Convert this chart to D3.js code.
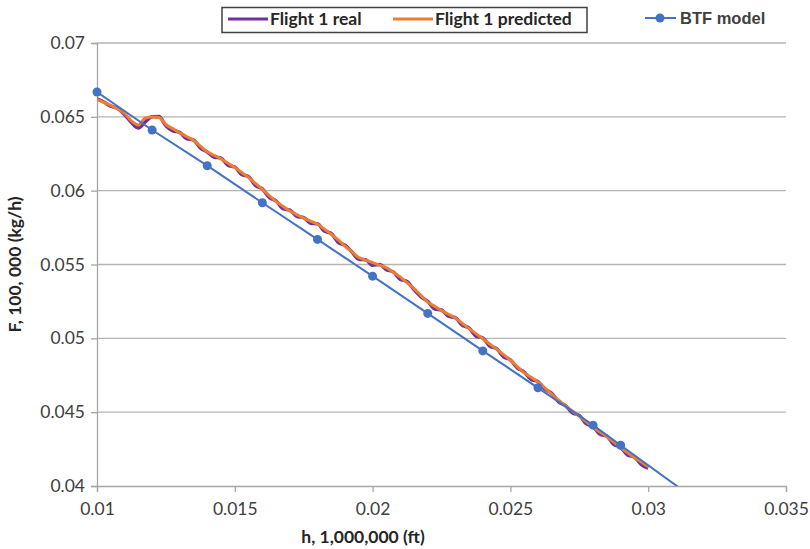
<!DOCTYPE html>
<html>
<head>
<meta charset="utf-8">
<script src="https://cdn.jsdelivr.net/npm/d3@7"></script>
<style>
  body { margin: 0; background: #fff; }
  text { font-family: Lato, "Open Sans", sans-serif; }
</style>
</head>
<body>
<div id="chart"></div>
<script>
// x values of the flight curves (h, 1,000,000 ft)
const flightH = [
  0.01, 0.01025, 0.0105, 0.01075, 0.011, 0.01125, 0.0115, 0.01175, 0.012, 0.01225,
  0.0125, 0.01275, 0.013, 0.01325, 0.0135, 0.01375, 0.014, 0.01425, 0.0145, 0.01475,
  0.015, 0.01525, 0.0155, 0.01575, 0.016, 0.01625, 0.0165, 0.01675, 0.017, 0.01725,
  0.0175, 0.01775, 0.018, 0.01825, 0.0185, 0.01875, 0.019, 0.01925, 0.0195, 0.01975,
  0.02, 0.02025, 0.0205, 0.02075, 0.021, 0.02125, 0.0215, 0.02175, 0.022, 0.02225,
  0.0225, 0.02275, 0.023, 0.02325, 0.0235, 0.02375, 0.024, 0.02425, 0.0245, 0.02475,
  0.025, 0.02525, 0.0255, 0.02575, 0.026, 0.02625, 0.0265, 0.02675, 0.027, 0.02725,
  0.0275, 0.02775, 0.028, 0.02825, 0.0285, 0.02875, 0.029, 0.02925, 0.0295, 0.02975,
  0.03
];

const flightReal = [
  0.06622, 0.06600, 0.06572, 0.06556, 0.06515, 0.06462, 0.06424, 0.06465, 0.06500, 0.06502,
  0.06440, 0.06405, 0.06395, 0.06352, 0.06343, 0.06290, 0.06262, 0.06228, 0.06220, 0.06172,
  0.06160, 0.06110, 0.06095, 0.06035, 0.06012, 0.05955, 0.05930, 0.05878, 0.05868, 0.05826,
  0.05818, 0.05780, 0.05776, 0.05726, 0.05710, 0.05650, 0.05630, 0.05585, 0.05535, 0.05532,
  0.05495, 0.05500, 0.05465, 0.05450, 0.05400, 0.05385, 0.05330, 0.05282, 0.05250, 0.05200,
  0.05192, 0.05150, 0.05140, 0.05090, 0.05070, 0.05015, 0.05002, 0.04948, 0.04930, 0.04875,
  0.04855, 0.04800, 0.04772, 0.04722, 0.04708, 0.04655, 0.04628, 0.04570, 0.04545, 0.04495,
  0.04478, 0.04422, 0.04402, 0.04350, 0.04338, 0.04282, 0.04262, 0.04210, 0.04196, 0.04145,
  0.04122
];

const flightPredicted = [
  0.06619, 0.06598, 0.06577, 0.06553, 0.06524, 0.06472, 0.06444, 0.06492, 0.06499, 0.06495,
  0.06448, 0.06420, 0.06392, 0.06367, 0.06341, 0.06302, 0.06263, 0.06240, 0.06215, 0.06186,
  0.06157, 0.06123, 0.06089, 0.06049, 0.06008, 0.05967, 0.05926, 0.05894, 0.05862, 0.05838,
  0.05814, 0.05794, 0.05774, 0.05740, 0.05706, 0.05666, 0.05625, 0.05586, 0.05547, 0.05530,
  0.05513, 0.05496, 0.05479, 0.05448, 0.05416, 0.05377, 0.05337, 0.05291, 0.05245, 0.05217,
  0.05188, 0.05163, 0.05138, 0.05102, 0.05066, 0.05032, 0.04997, 0.04962, 0.04927, 0.04890,
  0.04852, 0.04809, 0.04766, 0.04736, 0.04705, 0.04664, 0.04622, 0.04582, 0.04542, 0.04508,
  0.04473, 0.04436, 0.04398, 0.04366, 0.04334, 0.04297, 0.04260, 0.04226, 0.04192, 0.04162,
  0.04131
];

// BTF model points (last one lies below the axis and is clipped)
const btfH = [0.01, 0.012, 0.014, 0.016, 0.018, 0.02, 0.022, 0.024, 0.026, 0.028, 0.029, 0.032];
const btfF = [0.06668, 0.06411, 0.06169, 0.05918, 0.05670, 0.05421, 0.05169, 0.04915, 0.04665, 0.04412, 0.04276, 0.03870];

const xTicks = [0.01, 0.015, 0.02, 0.025, 0.03, 0.035];
const yTicks = [0.04, 0.045, 0.05, 0.055, 0.06, 0.065, 0.07];

const width = 810, height = 549;
const plot = { left: 97, right: 786, top: 43, bottom: 486 };

const svg = d3.select("#chart").append("svg")
    .attr("width", width)
    .attr("height", height);

const xScale = d3.scaleLinear().domain([0.01, 0.035]).range([plot.left, plot.right]);
const yScale = d3.scaleLinear().domain([0.04, 0.07]).range([plot.bottom, plot.top]);

// gridlines
svg.append("g")
    .selectAll("line")
    .data(yTicks.slice(1))
    .enter().append("line")
    .attr("x1", plot.left)
    .attr("x2", plot.right)
    .attr("y1", (d) => yScale(d))
    .attr("y2", (d) => yScale(d))
    .style("stroke", "#b4b4b4")
    .style("stroke-width", 1.3);

// y-axis
const yAxis = svg.append("g")
    .attr("transform", `translate(${plot.left}, 0)`)
    .call(d3.axisLeft(yScale).tickValues(yTicks).tickSize(6).tickPadding(6).tickFormat((d) => d3.format("")(+d.toFixed(3))));

// x-axis
const xAxis = svg.append("g")
    .attr("transform", `translate(0, ${plot.bottom})`)
    .call(d3.axisBottom(xScale).tickValues(xTicks).tickSize(6).tickPadding(11).tickFormat((d) => d3.format("")(+d.toFixed(3))));

[yAxis, xAxis].forEach((ax) => {
    ax.select(".domain").style("stroke", "#a6a6a6").style("stroke-width", 1.3);
    ax.selectAll(".tick line").style("stroke", "#a6a6a6").style("stroke-width", 1.3);
    ax.selectAll(".tick text")
        .style("font-family", "Lato, sans-serif")
        .style("font-size", "17.5px")
        .style("fill", "#404040");
});

// axis titles
svg.append("text")
    .attr("x", 363)
    .attr("y", 543)
    .attr("text-anchor", "middle")
    .style("font-size", "17.5px")
    .style("font-weight", "bold")
    .style("fill", "#262626")
    .text("h, 1,000,000 (ft)");

svg.append("text")
    .attr("transform", `translate(21, ${(plot.top + plot.bottom) / 2}) rotate(-90)`)
    .attr("text-anchor", "middle")
    .style("font-size", "17.5px")
    .style("font-weight", "bold")
    .style("fill", "#262626")
    .text("F, 100, 000 (kg/h)");

// clip for the plot area
svg.append("clipPath")
    .attr("id", "plot-clip")
    .append("rect")
    .attr("x", plot.left)
    .attr("y", plot.top)
    .attr("width", plot.right - plot.left)
    .attr("height", plot.bottom - plot.top);

const lines = svg.append("g").attr("clip-path", "url(#plot-clip)");

const flightLine = d3.line()
    .x((d) => xScale(d[0]))
    .y((d) => yScale(d[1]))
    .curve(d3.curveMonotoneX);

lines.append("path")
    .datum(flightH.map((h, i) => [h, flightReal[i]]))
    .attr("d", flightLine)
    .style("fill", "none")
    .style("stroke", "#7030A0")
    .style("stroke-width", 3.5);

lines.append("path")
    .datum(flightH.map((h, i) => [h, flightPredicted[i]]))
    .attr("d", flightLine)
    .style("fill", "none")
    .style("stroke", "#ED7D31")
    .style("stroke-width", 3);

const btf = btfH.map((h, i) => [h, btfF[i]]);

lines.append("path")
    .datum(btf)
    .attr("d", d3.line().x((d) => xScale(d[0])).y((d) => yScale(d[1])))
    .style("fill", "none")
    .style("stroke", "#4472C4")
    .style("stroke-width", 2);

// markers only for points inside the y range
svg.append("g")
    .selectAll("circle")
    .data(btf.filter((d) => d[1] >= 0.04))
    .enter().append("circle")
    .attr("cx", (d) => xScale(d[0]))
    .attr("cy", (d) => yScale(d[1]))
    .attr("r", 4.5)
    .style("fill", "#4472C4");

// legend for flight series
const legend = svg.append("g");
legend.append("rect")
    .attr("x", 222)
    .attr("y", 7.5)
    .attr("width", 365)
    .attr("height", 25)
    .style("fill", "#fff")
    .style("stroke", "#404040")
    .style("stroke-width", 1.5);

const legendItems = [
    { name: "Flight 1 real", color: "#7030A0", x: 228 },
    { name: "Flight 1 predicted", color: "#ED7D31", x: 393 }
];

legendItems.forEach((d) => {
    legend.append("line")
        .attr("x1", d.x)
        .attr("x2", d.x + 40)
        .attr("y1", 19)
        .attr("y2", 19)
        .style("stroke", d.color)
        .style("stroke-width", 3);
    legend.append("text")
        .attr("x", d.x + 42)
        .attr("y", 25)
        .style("font-size", "17.5px")
        .style("font-weight", "bold")
        .style("fill", "#262626")
        .text(d.name);
});

// legend for BTF model
legend.append("line")
    .attr("x1", 645)
    .attr("x2", 676)
    .attr("y1", 18)
    .attr("y2", 18)
    .style("stroke", "#4472C4")
    .style("stroke-width", 2);
legend.append("circle")
    .attr("cx", 660)
    .attr("cy", 18)
    .attr("r", 4.5)
    .style("fill", "#4472C4");
legend.append("text")
    .attr("x", 680)
    .attr("y", 24)
    .style("font-family", "'Liberation Sans', Arial, sans-serif")
    .style("font-size", "16.5px")
    .style("font-weight", "bold")
    .style("fill", "#404040")
    .text("BTF model");
</script>
</body>
</html>
